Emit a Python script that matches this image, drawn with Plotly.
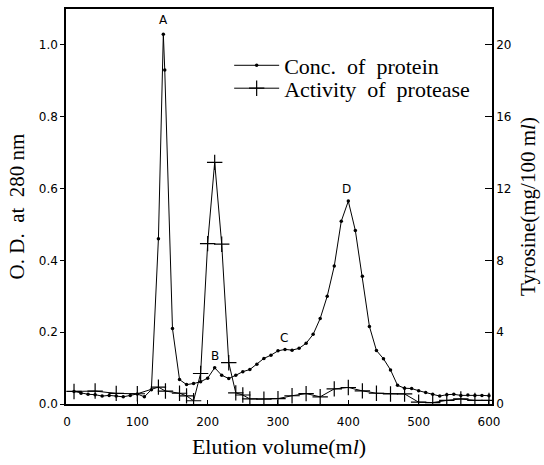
import plotly.graph_objects as go

# Conc. of protein (O.D. at 280 nm), left axis
prot_x = [10, 20, 30, 40, 50, 60, 70, 80, 90, 100, 110, 120, 130, 137, 139, 150, 160, 170, 180, 190,
          200, 210, 220, 230, 240, 250, 260, 270, 280, 290, 300, 310, 320, 330, 340, 350, 360, 370,
          380, 390, 400, 410, 420, 430, 440, 450, 460, 470, 480, 490, 500, 510, 520, 530, 540, 550,
          560, 570, 580, 590, 600]
prot_y = [0.035, 0.030, 0.027, 0.026, 0.022, 0.024, 0.022, 0.020, 0.024, 0.028, 0.020, 0.040, 0.46, 1.03, 0.93, 0.21, 0.068, 0.054, 0.057, 0.062,
          0.072, 0.101, 0.080, 0.071, 0.080, 0.090, 0.096, 0.111, 0.127, 0.136, 0.148, 0.152, 0.150, 0.155, 0.169, 0.194, 0.238, 0.300,
          0.384, 0.509, 0.565, 0.483, 0.356, 0.216, 0.149, 0.126, 0.095, 0.052, 0.044, 0.043, 0.037, 0.032, 0.027, 0.022, 0.026, 0.027,
          0.024, 0.025, 0.024, 0.024, 0.023]

# Activity of protease (Tyrosine mg/100 ml), right axis
act_x = [10, 40, 70, 100, 130, 140, 160, 170, 180, 190, 200, 210, 220, 230, 240, 250, 260, 280, 300,
         320, 340, 360, 380, 400, 420, 440, 460, 480, 500, 520, 540, 560, 580, 600]
act_y = [0.70, 0.72, 0.59, 0.57, 0.94, 0.72, 0.60, 0.45, 0.18, 1.70, 8.93, 13.46, 8.90, 2.30, 0.62, 0.50, 0.28, 0.27, 0.30,
         0.46, 0.58, 0.40, 0.84, 0.92, 0.73, 0.60, 0.56, 0.56, 0.10, 0.08, 0.20, 0.28, 0.20, 0.20]

peak_labels = ["A", "B", "C", "D"]
peak_x = [137, 210, 308, 398]
peak_y = [1.07, 0.133, 0.183, 0.60]

x_ticks = [0, 100, 200, 300, 400, 500, 600]
left_ticks = [0.0, 0.2, 0.4, 0.6, 0.8, 1.0]
right_ticks = [0, 4, 8, 12, 16, 20]

serif = "Liberation Serif"
tickfont = dict(family="DejaVu Sans", size=12, color="black")
legfont = dict(family=serif, size=22, color="black")

fig = go.Figure()
fig.add_trace(go.Scatter(
    x=prot_x, y=prot_y, mode="lines+markers", name="Conc.  of  protein",
    line=dict(color="black", width=1),
    marker=dict(symbol="circle", size=3.5, color="black"),
    yaxis="y", legend="legend"))
fig.add_trace(go.Scatter(
    x=act_x, y=act_y, mode="lines+markers", name="Activity  of  protease",
    line=dict(color="black", width=1),
    marker=dict(symbol="cross-thin", size=11, line=dict(color="black", width=1.2)),
    yaxis="y2", legend="legend2"))

for lab, px, py in zip(peak_labels, peak_x, peak_y):
    fig.add_annotation(x=px, y=py, xref="x", yref="y", text=lab, showarrow=False,
                       font=dict(family="DejaVu Sans", size=12, color="black"))

fig.update_layout(
    width=544, height=465,
    margin=dict(l=66, r=52, t=7, b=61),
    paper_bgcolor="white", plot_bgcolor="white",
    showlegend=True,
    legend=dict(x=0.383, y=0.857, xanchor="left", yanchor="middle", font=legfont,
                bgcolor="rgba(0,0,0,0)", itemwidth=45),
    legend2=dict(x=0.383, y=0.799, xanchor="left", yanchor="middle", font=legfont,
                 bgcolor="rgba(0,0,0,0)", itemwidth=45),
    xaxis=dict(range=[-1.4, 604.3], tickvals=x_ticks, ticks="inside", ticklen=4,
               tickcolor="black", showline=True, linecolor="black", linewidth=1.5,
               mirror=True, showgrid=False, zeroline=False, tickfont=tickfont,
               ticklabelstandoff=6,
               title=dict(text="Elution volume(m<i>l</i>)", font=dict(family=serif, size=22, color="black"),
                          standoff=10)),
    yaxis=dict(range=[0, 1.1], tickvals=left_ticks, tickformat=".1f", ticks="outside", ticklen=4,
               tickcolor="black", showline=True, linecolor="black", linewidth=1.5,
               showgrid=False, zeroline=False, tickfont=tickfont,
               title=dict(text="O. D.  at  280 nm", font=dict(family=serif, size=21, color="black"),
                          standoff=8)),
    yaxis2=dict(range=[0, 22], tickvals=right_ticks, ticks="inside", ticklen=7,
                overlaying="y", side="right", tickcolor="black", showline=True,
                linecolor="black", linewidth=1.5, showgrid=False, zeroline=False,
                tickfont=tickfont,
                title=dict(text="Tyrosine(mg/100 m<i>l</i>)", font=dict(family=serif, size=21, color="black"),
                           standoff=10)),
)

fig.write_html("out.html")
